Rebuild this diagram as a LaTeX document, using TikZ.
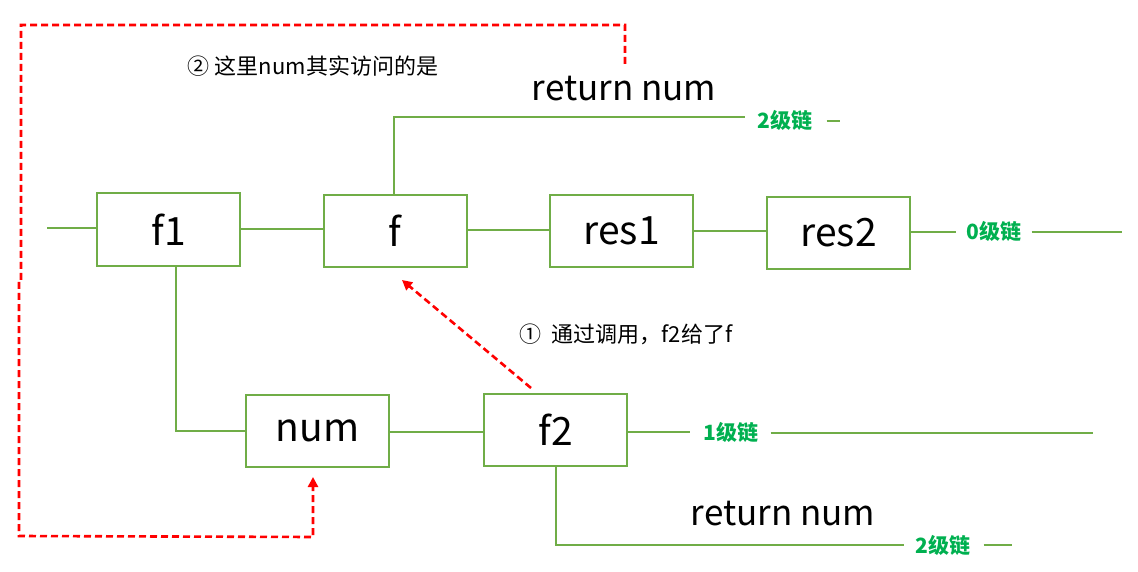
\documentclass[tikz,border=0pt]{standalone}
\usepackage{fontspec}
\setmainfont{Noto Sans CJK SC}
\usetikzlibrary{arrows.meta}
\definecolor{gline}{HTML}{70AD47}
\definecolor{glabel}{HTML}{00B050}
\definecolor{rline}{HTML}{FF0000}
\tikzset{
  box/.style={draw=gline, line width=2pt, minimum width=143pt, minimum height=72pt, inner sep=0pt, font=\fontsize{39}{41}\selectfont},
  gl/.style={draw=gline, line width=2pt},
  lvl/.style={text=glabel, font=\bfseries\fontsize{21}{23}\selectfont, inner sep=0pt},
  note/.style={font=\fontsize{22}{24}\selectfont, inner sep=0pt},
  ret/.style={font=\fontsize{35}{37}\selectfont, inner sep=0pt},
  rdash/.style={draw=rline, line width=2.6pt, dash pattern=on 7pt off 4pt, -{Triangle[length=10pt,width=10pt]}},
}
\begin{document}
\begin{tikzpicture}[x=1pt,y=-1pt]
\useasboundingbox (0,0) rectangle (1138,572);
% boxes
\node[box] (f1) at (168.5,229.5) {f1};
\node[box] (f) at (395,231) {f};
\node[box] (res1) at (621.5,231) {res1};
\node[box] (res2) at (838.5,233) {res2};
\node[box] (num) at (317.5,430.5) {num};
\node[box] (f2) at (555.5,430) {f2};
% level labels
\node[lvl] (l2a) at (785,120) {2级链};
\node[lvl] (l0) at (994,231) {0级链};
\node[lvl] (l1) at (731,432) {1级链};
\node[lvl] (l2b) at (943,545) {2级链};
% texts
\node[ret] (ra) at (624,89) {return num};
\node[ret] (rb) at (783,514) {return num};
\node[note] (n2) at (313,66) {② 这里num其实访问的是};
\node[note] (n1) at (626,334) {①\ \ 通过调用，f2给了f};
% coordinates
\coordinate (lin) at (47,228.5);
\coordinate (fup) at (394,117);
\coordinate (f1dn) at (176,431);
\coordinate (f2dn) at (556,545);
\coordinate (e0) at (1122,232);
\coordinate (e1) at (1093,433);
\coordinate (e2a) at (840,121);
\coordinate (e2b) at (1012,545);
% green chain lines
\draw[gl] (lin) -- (f1.west |- lin);
\draw[gl] (f1.east |- 0,229) -- (f.west |- 0,229);
\draw[gl] (f.east |- 0,230) -- (res1.west |- 0,230);
\draw[gl] (res1.east |- 0,231) -- (res2.west |- 0,231);
\draw[gl] (res2.east |- 0,232) -- ([xshift=-10pt]l0.west |- 0,232);
\draw[gl] ([xshift=10pt]l0.east |- e0) -- (e0);
\draw[gl] (f.north -| fup) -- (fup) -- ([xshift=-12pt]l2a.west |- fup);
\draw[gl] ([xshift=14pt]l2a.east |- e2a) -- (e2a);
\draw[gl] (f1.south -| f1dn) -- (f1dn) -- (num.west |- f1dn);
\draw[gl] (num.east |- 0,432) -- (f2.west |- 0,432);
\draw[gl] (f2.east |- 0,432) -- ([xshift=-13pt]l1.west |- 0,432);
\draw[gl] ([xshift=12pt]l1.east |- e1) -- (e1);
\draw[gl] (f2.south -| f2dn) -- (f2dn) -- ([xshift=-11pt]l2b.west |- f2dn);
\draw[gl] ([xshift=13pt]l2b.east |- e2b) -- (e2b);
% red dashed arrows
\coordinate (a1s) at (531,388);
\coordinate (a1e) at (402,280);
\draw[rdash] (a1s) -- (a1e);
\coordinate (t0) at (625,64);
\coordinate (t1) at (625,25);
\coordinate (t2) at (21,25);
\coordinate (t3) at (21,281);
\coordinate (t4) at (19,281);
\coordinate (t5) at (19,536);
\coordinate (t6) at (313,537);
\coordinate (t7) at (313,477);
\draw[rdash] (t0) -- (t1) -- (t2) -- (t3) -- (t4) -- (t5) -- (t6) -- (t7);
\end{tikzpicture}
\end{document}
